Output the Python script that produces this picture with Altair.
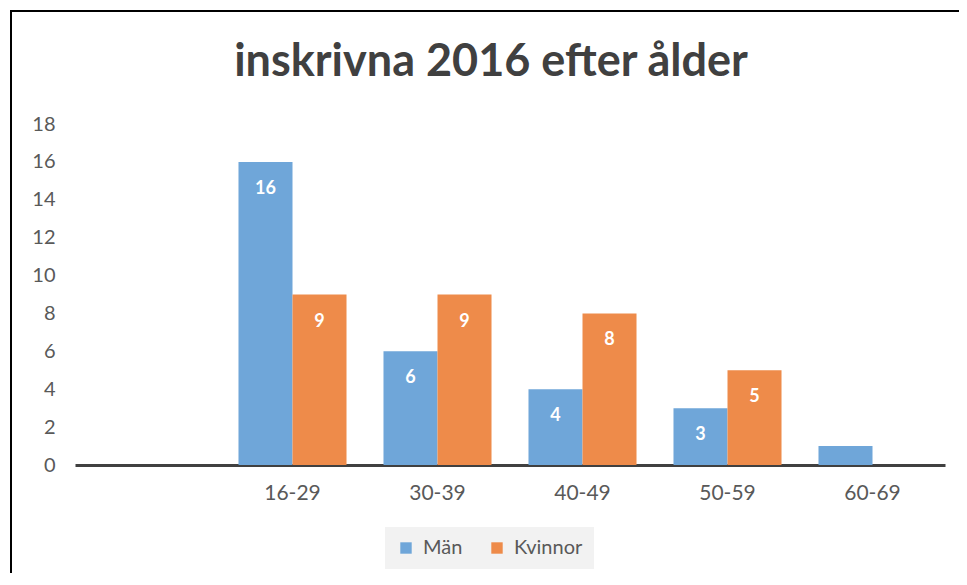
import altair as alt
import pandas as pd

categories = ["", "16-29", "30-39", "40-49", "50-59", "60-69"]
man = [None, 16, 6, 4, 3, 1]
kvinnor = [None, 9, 9, 8, 5, 0]
series = ["Män", "Kvinnor"]
colors = ["#6FA6D9", "#EE8B4A"]
y_ticks = [0, 2, 4, 6, 8, 10, 12, 14, 16, 18]
title_text = "inskrivna 2016 efter ålder"

rows = []
for c, m, k in zip(categories, man, kvinnor):
    if m is not None:
        rows.append({"cat": c, "serie": "Män", "v": m})
    if k is not None:
        rows.append({"cat": c, "serie": "Kvinnor", "v": k})
df = pd.DataFrame(rows)

FONT = "Lato"

x = alt.X("cat:N", sort=categories,
          scale=alt.Scale(domain=categories, paddingInner=0.255, paddingOuter=0.1275),
          axis=alt.Axis(title=None, labelAngle=0, ticks=False, domainColor="#404040",
                        domainWidth=3, labelColor="#595959", labelFontSize=21,
                        labelFont=FONT, labelPadding=17))
xo = alt.XOffset("serie:N", sort=series, scale=alt.Scale(domain=series, paddingInner=0, paddingOuter=0))

y_axis = alt.Axis(title=None, values=y_ticks, grid=False, domain=False, ticks=False,
                  labelColor="#595959", labelFontSize=20, labelFont=FONT,
                  labelPadding=20, labelOverlap=False, labelBound=False)
y_scale = alt.Scale(domain=[0, 18], nice=False)

base = alt.Chart(df)

bars = base.mark_bar().encode(
    x=x,
    xOffset=xo,
    y=alt.Y("v:Q", scale=y_scale, axis=y_axis),
    color=alt.Color("serie:N", sort=series,
                    scale=alt.Scale(domain=series, range=colors),
                    legend=alt.Legend(title=None, orient="none", direction="horizontal",
                                      legendX=310, legendY=403, fillColor="#F2F2F2",
                                      padding=11, symbolType="square", symbolSize=130,
                                      symbolStrokeWidth=0, labelFontSize=20, labelFont=FONT,
                                      labelColor="#595959", columnPadding=24,
                                      labelOffset=7)),
)

labels = base.transform_calculate(ly="max(datum.v, 2.9)").mark_text(
    color="white", fontWeight="bold", fontSize=18, font=FONT, baseline="middle", dy=27
).encode(
    x=x,
    xOffset=xo,
    y=alt.Y("ly:Q", scale=y_scale, axis=y_axis),
    text=alt.Text("v:Q"),
)

title = alt.Chart(pd.DataFrame({"t": [title_text]})).mark_text(
    font=FONT, fontSize=45, fontWeight="bold", color="#404040", align="center",
    baseline="alphabetic"
).encode(x=alt.value(416), y=alt.value(-48), text="t:N")

border = alt.Chart(pd.DataFrame({"a": [0]})).mark_rect(
    fill=None, stroke="black", strokeWidth=2
).encode(
    x=alt.value(-64), x2=alt.value(920), y=alt.value(-113), y2=alt.value(600)
)

chart = alt.layer(bars, labels, title, border).properties(
    width=870, height=341,
    autosize=alt.AutoSizeParams(type="none"),
    padding={"left": 67, "top": 116, "right": 14, "bottom": 108},
).configure(background="white").configure_view(stroke=None)

chart.save("out.html", embed_options={"renderer": "svg", "actions": False})
